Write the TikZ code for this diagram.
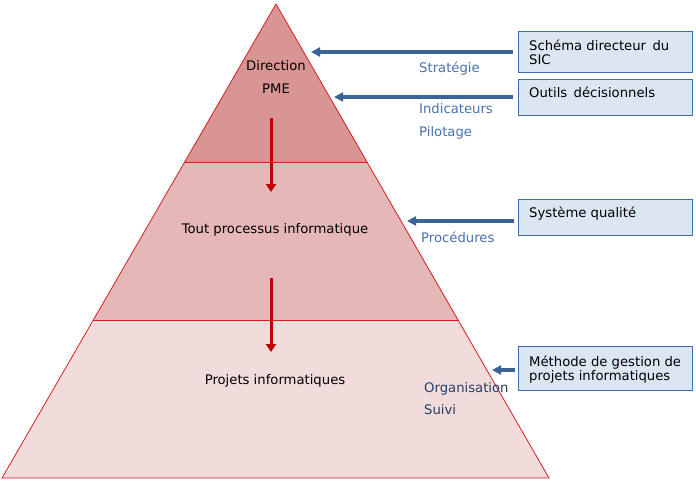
\documentclass[tikz,border=0pt]{standalone}
\usepackage{fontspec}
\setmainfont{DejaVu Sans}
\usetikzlibrary{arrows.meta}
\definecolor{topband}{HTML}{D99594}
\definecolor{midband}{HTML}{E5B8B7}
\definecolor{lowband}{HTML}{F2DBDB}
\definecolor{pyrline}{HTML}{D42020}
\definecolor{redarrow}{HTML}{C00000}
\definecolor{bluearrow}{HTML}{3B6395}
\definecolor{boxfill}{HTML}{DCE6F2}
\definecolor{boxline}{HTML}{3F6CA8}
\definecolor{lightlabel}{HTML}{4A70AC}
\definecolor{darklabel}{HTML}{243F66}
\tikzset{
  band/.style={draw=pyrline, line width=0.8pt},
  downarrow/.style={draw=redarrow, line width=3pt, -{Triangle[length=8pt,width=10pt]}},
  leftarrow/.style={draw=bluearrow, line width=3.2pt, -{Triangle[length=9pt,width=9pt]}},
  infobox/.style={draw=boxline, fill=boxfill, line width=0.8pt},
  boxtext/.style={anchor=base west, inner sep=0pt, font=\fontsize{13.2}{15}\selectfont},
  pyrtext/.style={anchor=base, inner sep=0pt, font=\fontsize{13.2}{15}\selectfont},
  bluelabel/.style={anchor=base west, inner sep=0pt, text=lightlabel, font=\fontsize{13.2}{15}\selectfont},
  darkbluelabel/.style={anchor=base west, inner sep=0pt, text=darklabel, font=\fontsize{13.2}{15}\selectfont},
}
\begin{document}
\begin{tikzpicture}[x=1pt,y=-1pt]
\useasboundingbox (0,0) rectangle (696,482);
% pyramid bands
\coordinate (apex) at (276,4);
\coordinate (l1) at (184.6,162);
\coordinate (r1) at (367.3,162);
\coordinate (l2) at (93.3,320);
\coordinate (r2) at (458.6,320);
\coordinate (bl) at (2,478);
\coordinate (br) at (549,478);
\fill[lowband] (l2) -- (r2) -- (br) -- (bl) -- cycle;
\fill[midband] (l1) -- (r1) -- (r2) -- (l2) -- cycle;
\fill[topband] (apex) -- (r1) -- (l1) -- cycle;
\draw[band] (apex) -- (br) -- (bl) -- cycle;
\draw[band] (l1) -- (r1);
\draw[band] (l2) -- (r2);
% pyramid texts
\node[pyrtext] (direction) at (276,70) {Direction};
\node[pyrtext] (pme) at (276,93) {PME};
\node[pyrtext] (tout) at (275,233) {Tout processus informatique};
\node[pyrtext] (projets) at (275,384) {Projets informatiques};
% red arrows
\coordinate (ra1s) at (271,118);
\coordinate (ra1e) at (271,192);
\coordinate (ra2s) at (271,278);
\coordinate (ra2e) at (271,352);
\draw[downarrow] (ra1s) -- (ra1e);
\draw[downarrow] (ra2s) -- (ra2e);
% boxes
\draw[infobox] (518,31) rectangle (692,72);
\draw[infobox] (518,79) rectangle (692,115);
\draw[infobox] (518,199) rectangle (692,235);
\draw[infobox] (518,346) rectangle (692,390);
\node[boxtext] (b1a) at (529,50) {Schéma directeur\, du};
\node[boxtext] (b1b) at (529,64) {SIC};
\node[boxtext] (b2) at (529,97) {Outils\, décisionnels};
\node[boxtext] (b3) at (529,217) {Système qualité};
\node[boxtext] (b4a) at (529,366) {Méthode de gestion de};
\node[boxtext] (b4b) at (529,380) {projets informatiques};
% blue arrows
\coordinate (ba1s) at (513,52);
\coordinate (ba1e) at (311,52);
\coordinate (ba2s) at (513,97);
\coordinate (ba2e) at (334,97);
\coordinate (ba3s) at (514,221);
\coordinate (ba3e) at (407,221);
\coordinate (ba4s) at (515,370);
\coordinate (ba4e) at (492,370);
\draw[leftarrow] (ba1s) -- (ba1e);
\draw[leftarrow] (ba2s) -- (ba2e);
\draw[leftarrow] (ba3s) -- (ba3e);
\draw[leftarrow] (ba4s) -- (ba4e);
% blue labels
\node[bluelabel] (strat) at (419,72) {Stratégie};
\node[bluelabel] (indic) at (419,113) {Indicateurs};
\node[bluelabel] (pilot) at (419,136) {Pilotage};
\node[bluelabel] (proc) at (421,242) {Procédures};
\node[darkbluelabel] (orga) at (424,392) {Organisation};
\node[darkbluelabel] (suivi) at (424,414) {Suivi};
\end{tikzpicture}
\end{document}
